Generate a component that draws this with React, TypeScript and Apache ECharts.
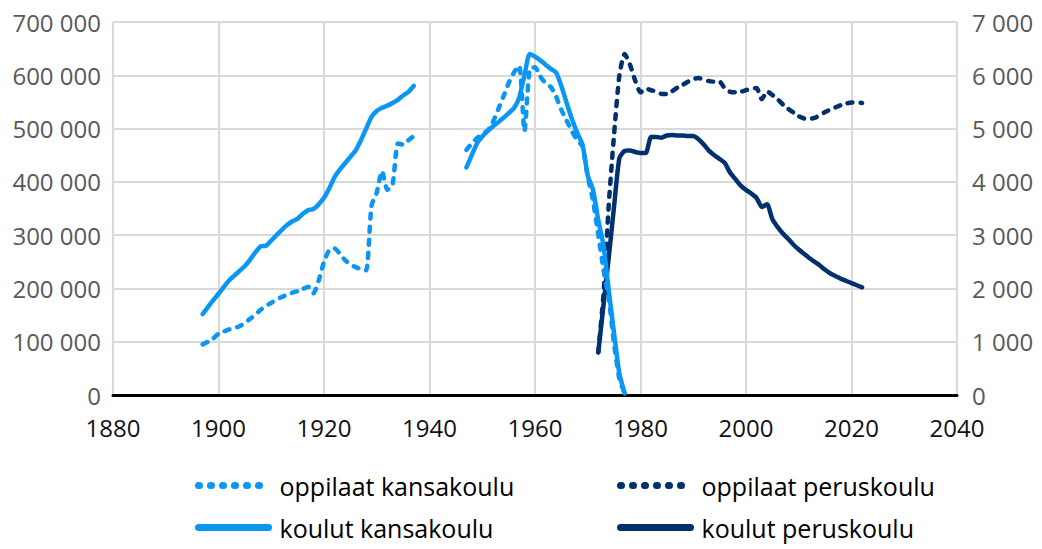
import React, { useEffect, useRef } from 'react';
import * as echarts from 'echarts';

// ---- Data ----
const yearsKansa1 = [
  1897, 1898, 1899, 1900, 1901, 1902, 1903, 1904, 1905, 1906, 1907, 1908, 1909, 1910,
  1911, 1912, 1913, 1914, 1915, 1916, 1917, 1918, 1919, 1920, 1921, 1922, 1923, 1924,
  1925, 1926, 1927, 1928, 1929, 1930, 1931, 1932, 1933, 1934, 1935, 1936, 1937,
];
const oppilaatKansa1 = [
  95000, 100000, 106000, 115000, 119000, 123000, 126000, 129000, 135000, 143000, 151000,
  160000, 167000, 173000, 179000, 184000, 188000, 192000, 195000, 199000, 203000, 191000,
  215000, 250000, 272000, 275000, 265000, 253000, 245000, 240000, 236000, 234000, 355000,
  380000, 420000, 385000, 395000, 472000, 470000, 478000, 486000,
];
const koulutKansa1 = [
  1520, 1650, 1780, 1900, 2030, 2150, 2240, 2330, 2420, 2540, 2680, 2790, 2800, 2900, 3000,
  3100, 3190, 3260, 3310, 3400, 3470, 3490, 3580, 3700, 3880, 4090, 4230, 4350, 4470, 4590,
  4780, 5000, 5220, 5330, 5390, 5430, 5480, 5540, 5620, 5690, 5800,
];

const gapYear = 1942;

const yearsKansa2 = [
  1947, 1948, 1949, 1950, 1951, 1952, 1953, 1954, 1955, 1956, 1957, 1958, 1959, 1960,
  1961, 1962, 1963, 1964, 1965, 1966, 1967, 1968, 1969, 1970, 1971, 1972, 1973, 1974,
  1975, 1976, 1977,
];
const oppilaatKansa2 = [
  460000, 472000, 482000, 490000, 496000, 512000, 535000, 560000, 585000, 605000, 618000,
  495000, 612000, 615000, 598000, 585000, 578000, 560000, 535000, 515000, 495000, 478000,
  467000, 410000, 365000, 300000, 235000, 180000, 95000, 30000, 3000,
];
const koulutKansa2 = [
  4270, 4500, 4720, 4850, 4950, 5040, 5120, 5200, 5290, 5380, 5580, 6000, 6400, 6350, 6280,
  6200, 6120, 6050, 5800, 5480, 5180, 4920, 4700, 4120, 3850, 3280, 2800, 1950, 1150, 400, 30,
];

const yearsPerus = [
  1972, 1973, 1974, 1975, 1976, 1977, 1978, 1979, 1980, 1981, 1982, 1983, 1984, 1985,
  1986, 1987, 1988, 1989, 1990, 1991, 1992, 1993, 1994, 1995, 1996, 1997, 1998, 1999,
  2000, 2001, 2002, 2003, 2004, 2005, 2006, 2007, 2008, 2009, 2010, 2011, 2012, 2013,
  2014, 2015, 2016, 2017, 2018, 2019, 2020, 2021, 2022,
];
const oppilaatPerus = [
  80000, 190000, 360000, 490000, 600000, 640000, 620000, 590000, 568000, 575000, 572000,
  570000, 565000, 565000, 570000, 577000, 582000, 588000, 593000, 595000, 592000, 589000,
  588000, 588000, 575000, 569000, 568000, 569000, 572000, 575000, 576000, 555000, 570000,
  563000, 555000, 545000, 537000, 530000, 523000, 519000, 518000, 520000, 525000, 531000,
  536000, 540000, 544000, 547000, 549000, 549000, 548000,
];
const koulutPerus = [
  800, 1700, 2600, 3550, 4450, 4580, 4590, 4560, 4540, 4540, 4840, 4840, 4830, 4870, 4880,
  4870, 4870, 4860, 4860, 4800, 4700, 4580, 4500, 4430, 4350, 4170, 4050, 3930, 3850, 3780,
  3700, 3530, 3580, 3300, 3150, 3030, 2930, 2820, 2730, 2650, 2570, 2500, 2430, 2350, 2280,
  2230, 2180, 2140, 2100, 2060, 2020,
];

const xTicks = { min: 1880, max: 2040, interval: 20 };
const leftTicks = { min: 0, max: 700000, interval: 100000 };
const rightTicks = { min: 0, max: 7000, interval: 1000 };

const names = {
  oppKansa: 'oppilaat kansakoulu',
  kouKansa: 'koulut kansakoulu',
  oppPerus: 'oppilaat peruskoulu',
  kouPerus: 'koulut peruskoulu',
};

// ---- Styling ----
const LIGHT = '#0A96F2';
const NAVY = '#00306E';
const FONT = '"Open Sans", "Noto Sans", sans-serif';

const zip = (xs: number[], ys: number[]) => xs.map((x, i) => [x, ys[i]]);
const withGap = (a: any[], b: any[]) => [...a, [gapYear, '-'], ...b];

const fmt = (v: number) => String(v).replace(/\B(?=(\d{3})+(?!\d))/g, ' ');

export default function App() {
  const ref = useRef<HTMLDivElement>(null);

  useEffect(() => {
    if (!ref.current) return;
    const chart = echarts.init(ref.current, null, { renderer: 'svg' });

    const lineW = 4.5;
    const dashed = { type: [5, 8], cap: 'round', join: 'round', width: lineW };
    const solid = { type: 'solid', cap: 'round', join: 'round', width: lineW };

    const legendText = {
      color: '#000',
      fontFamily: FONT,
      fontSize: 25,
      padding: [0, 0, 0, 6],
    };
    const hidden = { color: 'rgba(0,0,0,0)', borderColor: 'rgba(0,0,0,0)', borderWidth: 0, opacity: 0 };
    const mkLegend = (name: string, left: number, top: number, color: string, isDashed: boolean) => {
      const ls = isDashed
        ? { width: 7, type: [1, 11], dashOffset: 0, cap: 'round', color }
        : { width: 7, type: 'solid', cap: 'round', color };
      return {
        orient: 'horizontal',
        left,
        top,
        itemWidth: 70,
        itemHeight: 16,
        textStyle: legendText,
        itemStyle: hidden,
        lineStyle: ls,
        data: [{ name, itemStyle: hidden, lineStyle: ls }],
      };
    };

    chart.setOption({
      animation: false,
      backgroundColor: '#fff',
      grid: { left: 113, right: 85, top: 22, bottom: 154, containLabel: false },
      legend: [
        mkLegend(names.oppKansa, 190, 468, LIGHT, true),
        mkLegend(names.kouKansa, 190, 510, LIGHT, false),
        mkLegend(names.oppPerus, 612, 468, NAVY, true),
        mkLegend(names.kouPerus, 612, 510, NAVY, false),
      ],
      xAxis: {
        type: 'value',
        min: xTicks.min,
        max: xTicks.max,
        interval: xTicks.interval,
        axisLine: { show: true, onZero: false, lineStyle: { color: '#000', width: 3 } },
        axisTick: { show: false },
        axisLabel: {
          color: '#111',
          fontFamily: FONT,
          fontSize: 24,
          margin: 20,
          formatter: (v: number) => String(v),
        },
        splitLine: { show: true, lineStyle: { color: '#d9d9d9', width: 2 } },
      },
      yAxis: [
        {
          type: 'value',
          min: leftTicks.min,
          max: leftTicks.max,
          interval: leftTicks.interval,
          axisLine: { show: false },
          axisTick: { show: false },
          axisLabel: {
            color: '#595959',
            fontFamily: FONT,
            fontSize: 24,
            margin: 12,
            formatter: fmt,
          },
          splitLine: { show: true, lineStyle: { color: '#d9d9d9', width: 2 } },
        },
        {
          type: 'value',
          position: 'right',
          min: rightTicks.min,
          max: rightTicks.max,
          interval: rightTicks.interval,
          axisLine: { show: false },
          axisTick: { show: false },
          axisLabel: {
            color: '#595959',
            fontFamily: FONT,
            fontSize: 24,
            margin: 15,
            formatter: fmt,
          },
          splitLine: { show: false },
        },
      ],
      series: [
        {
          name: names.oppPerus,
          type: 'line',
          yAxisIndex: 0,
          symbol: 'none',
          smooth: 0.2,
          color: NAVY,
          lineStyle: { ...dashed, color: NAVY },
          data: zip(yearsPerus, oppilaatPerus),
        },
        {
          name: names.kouPerus,
          type: 'line',
          yAxisIndex: 1,
          symbol: 'none',
          smooth: 0.2,
          color: NAVY,
          lineStyle: { ...solid, color: NAVY },
          data: zip(yearsPerus, koulutPerus),
        },
        {
          name: names.oppKansa,
          type: 'line',
          yAxisIndex: 0,
          symbol: 'none',
          smooth: 0.2,
          connectNulls: false,
          color: LIGHT,
          lineStyle: { ...dashed, color: LIGHT },
          data: withGap(zip(yearsKansa1, oppilaatKansa1), zip(yearsKansa2, oppilaatKansa2)),
        },
        {
          name: names.kouKansa,
          type: 'line',
          yAxisIndex: 1,
          symbol: 'none',
          smooth: 0.2,
          connectNulls: false,
          color: LIGHT,
          lineStyle: { ...solid, color: LIGHT },
          data: withGap(zip(yearsKansa1, koulutKansa1), zip(yearsKansa2, koulutKansa2)),
        },
      ],
    });

    return () => chart.dispose();
  }, []);

  return (
    <div
      ref={ref}
      style={{ position: 'fixed', left: 0, top: 0, width: 1042, height: 549 }}
    />
  );
}
